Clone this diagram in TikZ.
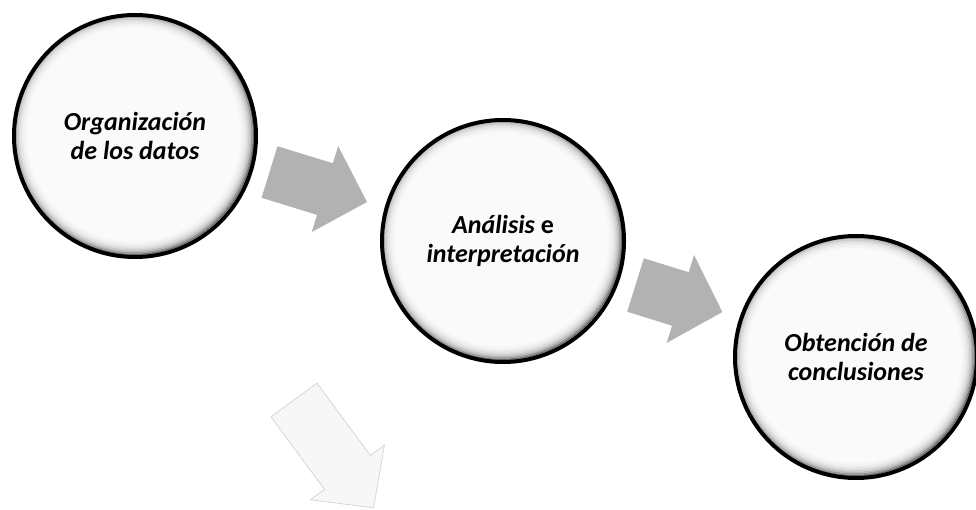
\documentclass[tikz,border=0pt]{standalone}
\usepackage{fontspec}
\setmainfont{Carlito}
\tikzset{
  stage/.style={circle, draw=black, line width=4pt, fill=white!98!black, minimum size=242pt, inner sep=0pt, align=center,
    font=\fontsize{26}{29}\selectfont\bfseries,
    path picture={
      \foreach \d/\g in {0/55,1.5/40,3/28,4.5/20,6/14,7.5/10,9/7,10.5/5,12/3.5,13.5/2.5,15/1.5}
        \draw[draw=black!\g, line width=1.7pt]
          ([shift={(-1.5pt,1.5pt)}]path picture bounding box.center) circle ({(120-\d)*1pt});
    }},
  grayarrow/.style={fill=black!30, draw=none},
  palearrow/.style={fill=black!3, draw=black!16, line width=0.8pt}
}
\begin{document}
\begin{tikzpicture}[x=1pt, y=-1pt]
\useasboundingbox (0,0) rectangle (976,510);
% arrows
\path[grayarrow, shift={(269.5,172)}, rotate=-17.1]
  (0,-27) -- (58,-27) -- (58,-45) -- (102,0) -- (58,45) -- (58,27) -- (0,27) -- cycle;
\path[grayarrow, shift={(635.5,285)}, rotate=-17.3]
  (0,-28) -- (47,-28) -- (47,-46) -- (91,0) -- (47,46) -- (47,28) -- (0,28) -- cycle;
\path[palearrow, shift={(294,400)}, rotate=-53.6]
  (0,-28.5) -- (90,-28.5) -- (90,-46) -- (134,0) -- (90,46) -- (90,28.5) -- (0,28.5) -- cycle;
% stages
\node[stage] (c1) at (135,136) {\itshape Organización\\\itshape de los datos};
\node[stage, yshift=0pt] (c2) at (503,241) {{\itshape Análisis} e\\\itshape interpretación};
\node[stage] (c3) at (856,357) {\itshape Obtención de\\\itshape conclusiones};
\end{tikzpicture}
\end{document}
